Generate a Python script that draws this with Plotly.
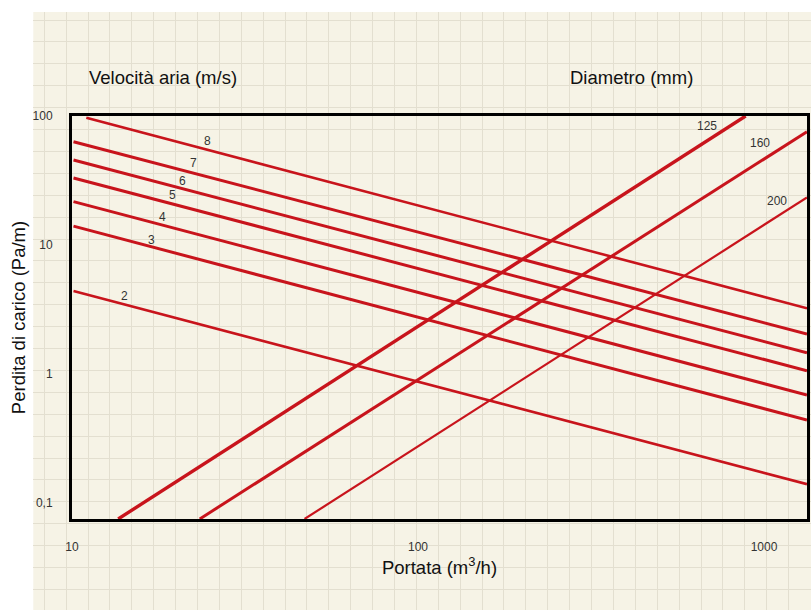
import math
import plotly.graph_objects as go

# ---------------- data ----------------
# air-velocity lines (m/s): flow (m3/h) and pressure loss (Pa/m) at both ends
vel_labels = ["8", "7", "6", "5", "4", "3", "2"]
vel_q_start = [11.0, 10.1, 10.1, 10.1, 10.1, 10.1, 10.1]
vel_r_start = [97.0, 63.2, 45.6, 33.1, 21.7, 14.0, 4.40]
vel_q_end = [1331, 1331, 1331, 1331, 1331, 1331, 1331]
vel_r_end = [3.23, 2.04, 1.46, 1.06, 0.688, 0.440, 0.140]

# duct-diameter lines (mm)
dia_labels = ["125", "160", "200"]
dia_q_start = [13.6, 23.4, 47.0]
dia_r_start = [0.0752, 0.0752, 0.0752]
dia_q_end = [885, 1331, 1331]
dia_r_end = [100.0, 75.6, 23.4]

# tick labels
x_tick_vals = [10, 100, 1000]
x_tick_text = ["10", "100", "1000"]
y_tick_vals = [0.1, 1, 10, 100]
y_tick_text = ["0,1", "1", "10", "100"]

# ---------------- styling / label placement ----------------
RED = "#c8141c"
vel_widths = [2.6, 3, 3, 3, 3, 3, 2.6]
dia_widths = [3.4, 3, 2.2]
vel_label_pos = [(24.7, 64.0), (22.5, 43.2), (20.9, 31.5), (19.5, 24.4),
                 (18.3, 16.5), (17.0, 10.9), (14.2, 4.02)]
dia_label_pos = [(683, 83.7), (974, 61.4), (1088, 22.0)]

W, H = 811, 610
fig = go.Figure()

# dummy trace so the graph-paper subplot is drawn
fig.add_trace(go.Scatter(x=[100], y=[100], xaxis="x", yaxis="y", hoverinfo="skip",
                         mode="markers", marker=dict(opacity=0),
                         showlegend=False))

for lab, q0, r0, q1, r1, w in zip(vel_labels, vel_q_start, vel_r_start,
                                  vel_q_end, vel_r_end, vel_widths):
    fig.add_trace(go.Scatter(x=[q0, q1], y=[r0, r1], mode="lines",
                             line=dict(color=RED, width=w), name=lab + " m/s",
                             xaxis="x2", yaxis="y2"))

for lab, q0, r0, q1, r1, w in zip(dia_labels, dia_q_start, dia_r_start,
                                  dia_q_end, dia_r_end, dia_widths):
    fig.add_trace(go.Scatter(x=[q0, q1], y=[r0, r1], mode="lines",
                             line=dict(color=RED, width=w), name=lab + " mm",
                             xaxis="x2", yaxis="y2"))

annotations = []
for lab, (qx, ry) in zip(vel_labels + dia_labels, vel_label_pos + dia_label_pos):
    annotations.append(dict(x=math.log10(qx), y=math.log10(ry),
                            xref="x2", yref="y2", text=lab, showarrow=False,
                            xanchor="center", yanchor="middle",
                            font=dict(family="Liberation Sans", size=12, color="#333")))

annotations += [
    dict(x=163 / W, y=1 - 78 / H, xref="paper", yref="paper",
         text="Velocità aria (m/s)", showarrow=False,
         xanchor="center", yanchor="middle",
         font=dict(family="Liberation Sans", size=18.5, color="#111")),
    dict(x=631 / W, y=1 - 78 / H, xref="paper", yref="paper",
         text="Diametro (mm)", showarrow=False,
         xanchor="center", yanchor="middle",
         font=dict(family="Liberation Sans", size=18.5, color="#111")),
]

tickfont = dict(family="Liberation Sans", size=12, color="#333")
titlefont = dict(family="Liberation Sans", size=18.5, color="#111")

fig.update_layout(
    width=W, height=H,
    margin=dict(l=0, r=0, t=0, b=0, pad=0, autoexpand=False),
    paper_bgcolor="white",
    plot_bgcolor="rgba(0,0,0,0)",
    showlegend=False,
    hovermode=False,
    shapes=[dict(type="rect", xref="paper", yref="paper",
                 x0=33.3 / W, x1=1, y0=0, y1=1 - 12 / H,
                 fillcolor="#f6f3e6", line=dict(width=0), layer="below")],
    # graph-paper grid
    xaxis=dict(domain=[33.3 / W, 1], range=[33.3, W], tick0=44.3, dtick=21.89,
               showgrid=True, gridcolor="#e3dfd0", gridwidth=1,
               showticklabels=False, zeroline=False, showline=False, ticks="",
               fixedrange=True, automargin=False),
    yaxis=dict(domain=[0, 1 - 12 / H], range=[H, 12], tick0=20, dtick=21.9,
               showgrid=True, gridcolor="#e3dfd0", gridwidth=1,
               showticklabels=False, zeroline=False, showline=False, ticks="",
               fixedrange=True, automargin=False),
    # chart axes
    xaxis2=dict(type="log", domain=[72 / W, 807 / W], range=[1, 3.1243],
                anchor="y2", showgrid=False, zeroline=False, automargin=False,
                showline=True, mirror=True, linecolor="black", linewidth=3,
                tickvals=x_tick_vals, ticktext=x_tick_text, ticks="",
                ticklabelstandoff=15, tickfont=tickfont,
                title=dict(text="Portata (m<sup>3</sup>/h)", font=titlefont,
                           standoff=0)),
    yaxis2=dict(type="log", domain=[1 - 519 / H, 1 - 116 / H], range=[-1.124, 2],
                anchor="x2", showgrid=False, zeroline=False, automargin=False,
                showline=True, mirror=True, linecolor="black", linewidth=3,
                tickvals=y_tick_vals, ticktext=y_tick_text, ticks="",
                ticklabelstandoff=14, tickfont=tickfont,
                title=dict(text="Perdita di carico (Pa/m)", font=titlefont,
                           standoff=3)),
    annotations=annotations,
)

fig.write_html(
    "out.html",
    config={"displayModeBar": False},
    post_script="document.body.style.margin='0';document.documentElement.style.overflow='hidden';",
)
